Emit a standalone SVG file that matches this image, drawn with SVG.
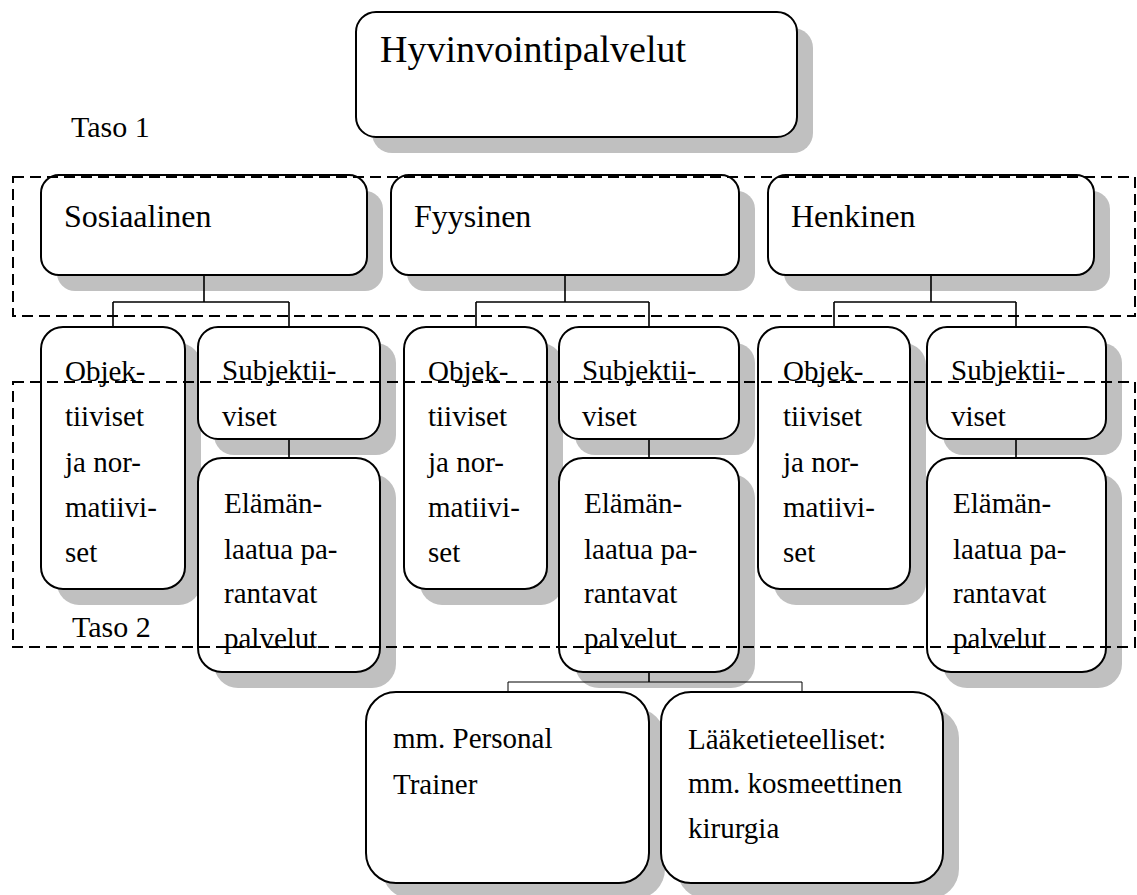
<svg xmlns="http://www.w3.org/2000/svg" width="1137" height="895" viewBox="0 0 1137 895">
  <style>
    .shadow { fill: #c0c0c0; stroke: none; }
    .box { fill: #ffffff; stroke: #000000; stroke-width: 2; }
    .conn { fill: none; stroke: #000000; stroke-width: 1.6; }
    .conn-thin { fill: none; stroke: #000000; stroke-width: 1; }
    .frame { fill: none; stroke: #000000; stroke-width: 2; stroke-dasharray: 11 6; }
    .t { font-family: "Liberation Serif", "Times New Roman", serif; fill: #000000; }
    .big { font-size: 38px; }
    .mid { font-size: 32px; }
    .sm { font-size: 29px; }
    .lbl { font-size: 30px; }
  </style>

  <!-- drop shadows, offset 16px down-right -->
  <g id="shadows">
    <rect class="shadow" x="372" y="28" width="441" height="125" rx="20"/>
    <rect class="shadow" x="57" y="191" width="326" height="100" rx="18"/>
    <rect class="shadow" x="407" y="191" width="348" height="100" rx="18"/>
    <rect class="shadow" x="784" y="191" width="326" height="100" rx="18"/>
    <rect class="shadow" x="57" y="343" width="144" height="262" rx="22"/>
    <rect class="shadow" x="214" y="343" width="182" height="112" rx="20"/>
    <rect class="shadow" x="214" y="474" width="182" height="214" rx="24"/>
    <rect class="shadow" x="420" y="343" width="143" height="262" rx="22"/>
    <rect class="shadow" x="575" y="343" width="180" height="112" rx="20"/>
    <rect class="shadow" x="575" y="474" width="180" height="214" rx="24"/>
    <rect class="shadow" x="774" y="343" width="152" height="262" rx="22"/>
    <rect class="shadow" x="943" y="343" width="179" height="112" rx="20"/>
    <rect class="shadow" x="943" y="474" width="179" height="214" rx="24"/>
    <rect class="shadow" x="382" y="708" width="283" height="191" rx="30"/>
    <rect class="shadow" x="677" y="708" width="282" height="191" rx="30"/>
  </g>

  <!-- tree connectors -->
  <g id="connectors">
    <path class="conn" d="M204 275 V302 M113 302 H289 M113 302 V327 M289 302 V327 M289 439 V458"/>
    <path class="conn" d="M565 275 V302 M476 302 H649 M476 302 V327 M649 302 V327 M649 439 V458"/>
    <path class="conn" d="M931 275 V302 M834 302 H1016 M834 302 V327 M1016 302 V327 M1016 439 V458"/>
    <path class="conn" d="M649 672 V682"/>
    <path class="conn-thin" d="M508 682 H802 M508 682 V692 M802 682 V692"/>
  </g>

  <g id="root">
    <rect class="box" x="356" y="12" width="441" height="125" rx="20"/>
    <text class="t big" x="380" y="62">Hyvinvointipalvelut</text>
  </g>

  <g id="sosiaalinen">
    <rect class="box" x="41" y="175" width="326" height="100" rx="18"/>
    <text class="t mid" x="64" y="227">Sosiaalinen</text>
  </g>
  <g id="fyysinen">
    <rect class="box" x="391" y="175" width="348" height="100" rx="18"/>
    <text class="t mid" x="414" y="227">Fyysinen</text>
  </g>
  <g id="henkinen">
    <rect class="box" x="768" y="175" width="326" height="100" rx="18"/>
    <text class="t mid" x="791" y="227">Henkinen</text>
  </g>

  <!-- Sosiaalinen branch -->
  <g id="sos-objektiiviset">
    <rect class="box" x="41" y="327" width="144" height="262" rx="22"/>
    <text class="t sm"><tspan x="65" y="381">Objek-</tspan><tspan x="65" y="426">tiiviset</tspan><tspan x="65" y="472">ja nor-</tspan><tspan x="65" y="517">matiivi-</tspan><tspan x="65" y="562">set</tspan></text>
  </g>
  <g id="sos-subjektiiviset">
    <rect class="box" x="198" y="327" width="182" height="112" rx="20"/>
    <text class="t sm"><tspan x="222" y="380">Subjektii-</tspan><tspan x="222" y="426">viset</tspan></text>
  </g>
  <g id="sos-elamanlaatu">
    <rect class="box" x="198" y="458" width="182" height="214" rx="24"/>
    <text class="t sm"><tspan x="224" y="513">Elämän-</tspan><tspan x="224" y="559">laatua pa-</tspan><tspan x="224" y="603">rantavat</tspan><tspan x="224" y="648">palvelut</tspan></text>
  </g>

  <!-- Fyysinen branch -->
  <g id="fyy-objektiiviset">
    <rect class="box" x="404" y="327" width="143" height="262" rx="22"/>
    <text class="t sm"><tspan x="428" y="381">Objek-</tspan><tspan x="428" y="426">tiiviset</tspan><tspan x="428" y="472">ja nor-</tspan><tspan x="428" y="517">matiivi-</tspan><tspan x="428" y="562">set</tspan></text>
  </g>
  <g id="fyy-subjektiiviset">
    <rect class="box" x="559" y="327" width="180" height="112" rx="20"/>
    <text class="t sm"><tspan x="582" y="380">Subjektii-</tspan><tspan x="582" y="426">viset</tspan></text>
  </g>
  <g id="fyy-elamanlaatu">
    <rect class="box" x="559" y="458" width="180" height="214" rx="24"/>
    <text class="t sm"><tspan x="584" y="513">Elämän-</tspan><tspan x="584" y="559">laatua pa-</tspan><tspan x="584" y="603">rantavat</tspan><tspan x="584" y="648">palvelut</tspan></text>
  </g>

  <!-- Henkinen branch -->
  <g id="hen-objektiiviset">
    <rect class="box" x="758" y="327" width="152" height="262" rx="22"/>
    <text class="t sm"><tspan x="783" y="381">Objek-</tspan><tspan x="783" y="426">tiiviset</tspan><tspan x="783" y="472">ja nor-</tspan><tspan x="783" y="517">matiivi-</tspan><tspan x="783" y="562">set</tspan></text>
  </g>
  <g id="hen-subjektiiviset">
    <rect class="box" x="927" y="327" width="179" height="112" rx="20"/>
    <text class="t sm"><tspan x="951" y="380">Subjektii-</tspan><tspan x="951" y="426">viset</tspan></text>
  </g>
  <g id="hen-elamanlaatu">
    <rect class="box" x="927" y="458" width="179" height="214" rx="24"/>
    <text class="t sm"><tspan x="953" y="513">Elämän-</tspan><tspan x="953" y="559">laatua pa-</tspan><tspan x="953" y="603">rantavat</tspan><tspan x="953" y="648">palvelut</tspan></text>
  </g>

  <!-- examples under Fyysinen quality-of-life services -->
  <g id="personal-trainer">
    <rect class="box" x="366" y="692" width="283" height="191" rx="30"/>
    <text class="t sm"><tspan x="393" y="748">mm. Personal</tspan><tspan x="393" y="794">Trainer</tspan></text>
  </g>
  <g id="laaketieteelliset">
    <rect class="box" x="661" y="692" width="282" height="191" rx="30"/>
    <text class="t sm"><tspan x="688" y="749">Lääketieteelliset:</tspan><tspan x="688" y="793">mm. kosmeettinen</tspan><tspan x="688" y="838">kirurgia</tspan></text>
  </g>

  <!-- level frames -->
  <g id="levels">
    <text class="t lbl" x="71" y="137">Taso 1</text>
    <rect class="frame" x="13" y="177" width="1122" height="139"/>
    <text class="t lbl" x="72" y="637">Taso 2</text>
    <rect class="frame" x="13" y="382" width="1122" height="265"/>
  </g>
</svg>
